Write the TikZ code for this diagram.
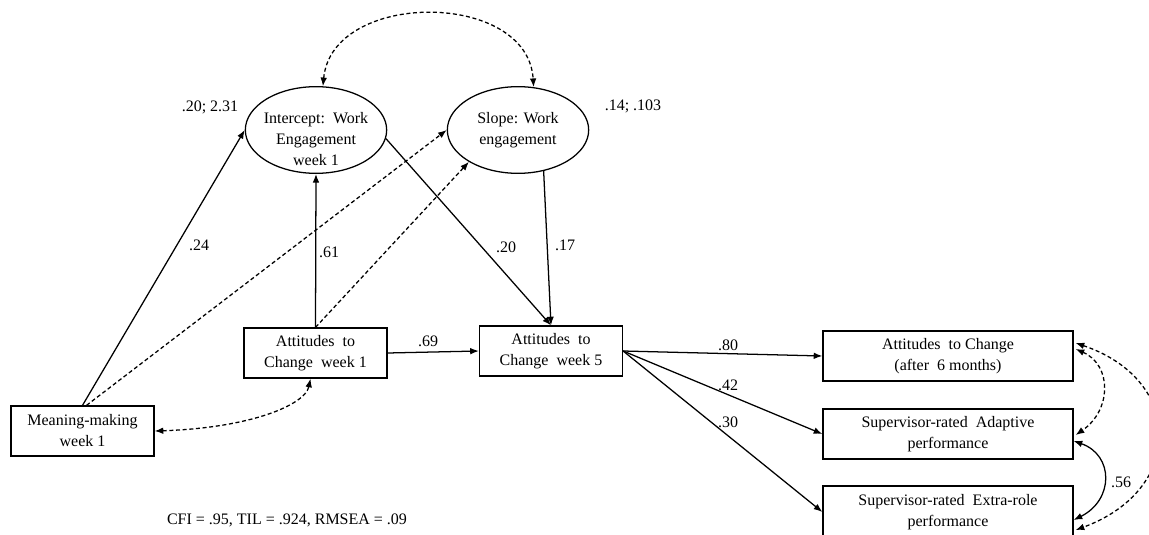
\documentclass[tikz,border=0pt]{standalone}
\usepackage{fontspec}
\setmainfont{Liberation Serif}
\usetikzlibrary{shapes.geometric,arrows.meta,calc}
\begin{document}
\begin{tikzpicture}[x=0.75pt,y=-0.75pt,
  every node/.style={font=\fontsize{12}{15.75}\selectfont},
  box/.style={draw,line width=0.95pt,minimum width=107.25pt,minimum height=37.5pt,align=center,inner sep=0pt},
  wbox/.style={box,minimum width=187.5pt},
  oval/.style={draw,ellipse,line width=0.95pt,minimum width=106pt,minimum height=65pt,align=center,inner sep=0pt},
  conn/.style={line width=0.95pt,-{Latex[length=6.5pt,width=5pt]}},
  dconn/.style={conn,dash pattern=on 3pt off 2pt},
  biconn/.style={line width=0.95pt,{Latex[length=6.5pt,width=5pt]}-{Latex[length=6.5pt,width=5pt]}},
  dbiconn/.style={biconn,dash pattern=on 3pt off 2pt},
  lab/.style={inner sep=0pt}
]
\useasboundingbox (0,0) rectangle (1149,535);

% nodes
\node[oval] (int) at (316,130) {};
\node[lab,align=center] (intT) at (316,139) {Intercept:\ \ Work\\Engagement\\week 1};
\node[oval] (sl) at (518,130) {Slope: Work\\engagement};
\node[box] (mm) at (82.5,431) {Meaning-making\\week 1};
\node[box] (a1) at (315.5,353) {Attitudes\ \ to\\Change\ \ week 1};
\node[box] (w5) at (551,351) {Attitudes\ \ to\\Change\ \ week 5};
\node[wbox] (a6) at (948,356) {Attitudes\ \ to Change\\(after\ \ 6 months)};
\node[wbox] (ad) at (948,434) {Supervisor-rated\ \ Adaptive\\performance};
\node[wbox,minimum height=39pt] (ex) at (948,512) {Supervisor-rated\ \ Extra-role\\performance};

% labels
\node[lab] (l1) at (210,107) {.20; 2.31};
\node[lab] (l2) at (633,106) {.14; .103};
\node[lab] (l3) at (199,245) {.24};
\node[lab] (l4) at (329,252) {.61};
\node[lab] (l5) at (506,247) {.20};
\node[lab] (l6) at (565,245) {.17};
\node[lab] (l7) at (428,341) {.69};
\node[lab] (l8) at (728,345) {.80};
\node[lab] (l9) at (728,385) {.42};
\node[lab] (l10) at (728,422) {.30};
\node[lab] (l11) at (1121,482) {.56};
\node[lab] (fit) at (287,520) {CFI = .95, TIL = .924, RMSEA = .09};

% connectors
\draw[dbiconn] (int.81) .. controls (332,-10) and (528,-10) .. (sl.70);
\draw[conn] (mm.north) -- (int.west);
\draw[dconn] ($(mm.north)+(4,0)$) -- (sl.west);
\draw[conn] (a1.north) -- (int.south);
\draw[dconn] (a1.north) -- (sl.213);
\draw[conn] (int.-7) -- (w5.north);
\draw[conn] (sl.302) -- (w5.north);
\draw[conn] (a1.east) -- (w5.west);
\draw[dbiconn] (mm.east) .. controls (250,428) and (305,405) .. ($(a1.south)+(-5,0)$);
\draw[conn] (w5.east) -- (a6.west);
\draw[conn] (w5.east) -- (ad.west);
\draw[conn] (w5.east) -- (ex.west);
\draw[biconn] ($(ad.east)+(0,7)$) .. controls (1114,455) and (1114,500) .. ($(ex.east)+(0,8)$);
\draw[dbiconn] ($(a6.east)+(2,-7)$) .. controls (1112,365) and (1112,410) .. ($(ad.east)+(2,1)$);
\draw[dbiconn] ($(a6.east)+(2,-13)$) .. controls (1185,380) and (1185,490) .. ($(ex.east)+(2,18)$);
\end{tikzpicture}
\end{document}
